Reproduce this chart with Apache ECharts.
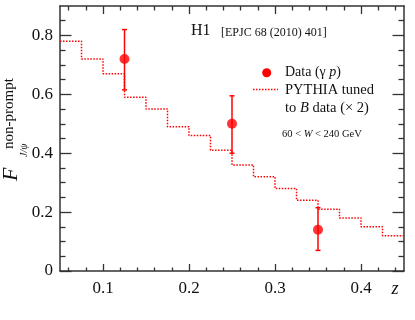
<!DOCTYPE html>
<html><head><meta charset="utf-8">
<script src="https://cdn.jsdelivr.net/npm/echarts@6/dist/echarts.min.js"></script>
<style>html,body{margin:0;padding:0;background:#fff}#c{width:415px;height:320px}</style>
</head><body><div id="c"></div>
<script>
// ---- data ----
const binEdges = [0.05,0.075,0.1,0.125,0.15,0.175,0.2,0.225,0.25,0.275,0.3,0.325,0.35,0.375,0.4,0.425,0.45];
const pythiaValues = [0.78,0.72,0.67,0.59,0.55,0.49,0.46,0.41,0.36,0.32,0.28,0.24,0.21,0.18,0.15,0.12];
const dataZ = [0.125,0.25,0.35];
const dataF = [0.72,0.50,0.14];
const dataErrLow = [0.615,0.40,0.07];
const dataErrHigh = [0.82,0.595,0.215];
const xMajorTicks = [0.1,0.2,0.3,0.4];
const xMinorTicks = [0.06,0.08,0.12,0.14,0.16,0.18,0.22,0.24,0.26,0.28,0.32,0.34,0.36,0.38,0.42,0.44];
const yMajorTicks = [0,0.2,0.4,0.6,0.8];
const yMinorTicks = [0.05,0.1,0.15,0.25,0.3,0.35,0.45,0.5,0.55,0.65,0.7,0.75,0.85];

const SERIF = '"Liberation Serif", "DejaVu Serif", serif';
const RED = '#ff0000';
const AX = '#333';

const stepData = pythiaValues.map((v, i) => [binEdges[i], v]);
stepData.push([binEdges[binEdges.length - 1], pythiaValues[pythiaValues.length - 1]]);

function xAx(pos, ticks, len, line, labels) {
  return {
    type: 'value', position: pos, min: 0.05, max: 0.45,
    axisLine: {show: line, onZero: false, lineStyle: {color: AX, width: 1.5}},
    axisTick: {show: true, inside: true, length: len, customValues: ticks, lineStyle: {color: AX, width: 1.3}},
    axisLabel: labels ? {show: true, customValues: ticks, margin: 9, color: '#111',
      fontFamily: SERIF, fontSize: 17} : {show: false},
    splitLine: {show: false}
  };
}
function yAx(pos, ticks, len, line, labels) {
  return {
    type: 'value', position: pos, min: 0, max: 0.9,
    axisLine: {show: line, onZero: false, lineStyle: {color: AX, width: 1.5}},
    axisTick: {show: true, inside: true, length: len, customValues: ticks, lineStyle: {color: AX, width: 1.3}},
    axisLabel: labels ? {show: true, customValues: ticks, margin: 7, color: '#111',
      fontFamily: SERIF, fontSize: 17, padding: [6, 0, 0, 0]} : {show: false},
    splitLine: {show: false}
  };
}

const chart = echarts.init(document.getElementById('c'), null, {renderer: 'canvas'});
chart.setOption({
  animation: false,
  backgroundColor: '#fff',
  grid: {left: 60, right: 11, top: 6, bottom: 49, containLabel: false},
  xAxis: [
    xAx('bottom', xMajorTicks, 7, true, true),
    xAx('bottom', xMinorTicks, 3.5, false, false),
    xAx('top', xMajorTicks, 8, true, false),
    xAx('top', xMinorTicks, 4.5, false, false)
  ],
  yAxis: [
    yAx('left', yMajorTicks, 11.5, true, true),
    yAx('left', yMinorTicks, 5.5, false, false),
    yAx('right', yMajorTicks, 11.5, true, false),
    yAx('right', yMinorTicks, 5.5, false, false)
  ],
  series: [
    {
      name: 'PYTHIA tuned to B data (× 2)',
      type: 'line', step: 'end', data: stepData, showSymbol: false,
      lineStyle: {color: RED, width: 1.5, type: [1.5, 1.5]},
      z: 2
    },
    {
      name: 'errors',
      type: 'custom',
      data: dataZ.map((z, i) => [z, dataErrLow[i], dataErrHigh[i]]),
      encode: {x: 0, y: [1, 2]},
      renderItem: function (params, api) {
        const lo = api.coord([api.value(0), api.value(1)]);
        const hi = api.coord([api.value(0), api.value(2)]);
        const w = 2.5;
        const st = {stroke: RED, lineWidth: 1.5};
        return {type: 'group', children: [
          {type: 'line', shape: {x1: lo[0], y1: lo[1], x2: hi[0], y2: hi[1]}, style: st},
          {type: 'line', shape: {x1: lo[0] - w, y1: lo[1], x2: lo[0] + w, y2: lo[1]}, style: st},
          {type: 'line', shape: {x1: hi[0] - w, y1: hi[1], x2: hi[0] + w, y2: hi[1]}, style: st}
        ]};
      },
      z: 3
    },
    {
      name: 'Data (γ p)',
      type: 'scatter', symbol: 'circle', symbolSize: 10,
      data: dataZ.map((z, i) => [z, dataF[i]]),
      itemStyle: {color: RED},
      z: 4
    }
  ],
  graphic: [
    {type: 'text', x: 191, y: 31, style: {text: 'H1', font: '16px ' + SERIF, fill: '#111', verticalAlign: 'middle'}},
    {type: 'text', x: 221, y: 33, style: {text: '[EPJC 68 (2010) 401]', font: '12px ' + SERIF, fill: '#111', verticalAlign: 'middle'}},
    {type: 'circle', shape: {cx: 266.7, cy: 72.7, r: 4.5}, style: {fill: RED}},
    {type: 'text', x: 285, y: 72.5, style: {text: '{a|Data (γ }{i|p}{a|)}', verticalAlign: 'middle',
      rich: {a: {font: '14px ' + SERIF, fill: '#111'}, i: {font: 'italic 14px ' + SERIF, fill: '#111'}}}},
    {type: 'line', shape: {x1: 253, y1: 89.5, x2: 278, y2: 89.5}, style: {stroke: RED, lineWidth: 1.5, lineDash: [1.5, 1.5]}},
    {type: 'text', x: 285, y: 90, style: {text: 'PYTHIA tuned', font: '14.5px ' + SERIF, fill: '#111', verticalAlign: 'middle'}},
    {type: 'text', x: 285, y: 108, style: {text: '{a|to }{i|B}{a| data (× 2)}', verticalAlign: 'middle',
      rich: {a: {font: '14.5px ' + SERIF, fill: '#111'}, i: {font: 'italic 14.5px ' + SERIF, fill: '#111'}}}},
    {type: 'text', x: 282, y: 134, style: {text: '{a|60 < }{i|W}{a| < 240 GeV}', verticalAlign: 'middle',
      rich: {a: {font: '10.5px ' + SERIF, fill: '#111'}, i: {font: 'italic 10.5px ' + SERIF, fill: '#111'}}}},
    {type: 'text', x: 395, y: 289, style: {text: 'z', font: 'italic 18px ' + SERIF, fill: '#111', align: 'center', verticalAlign: 'middle'}},
    {type: 'text', x: 22, y: 181, rotation: Math.PI / 2, style: {text: 'F', font: 'italic 22px ' + SERIF, fill: '#111', align: 'left', verticalAlign: 'bottom'}},
    {type: 'text', x: 29, y: 157, rotation: Math.PI / 2, style: {text: 'J/ψ', font: 'italic 10px ' + SERIF, fill: '#111', align: 'left', verticalAlign: 'bottom'}},
    {type: 'text', x: 16.5, y: 149, rotation: Math.PI / 2, style: {text: 'non-prompt', font: '15px ' + SERIF, fill: '#111', align: 'left', verticalAlign: 'bottom'}}
  ]
});
</script></body></html>
